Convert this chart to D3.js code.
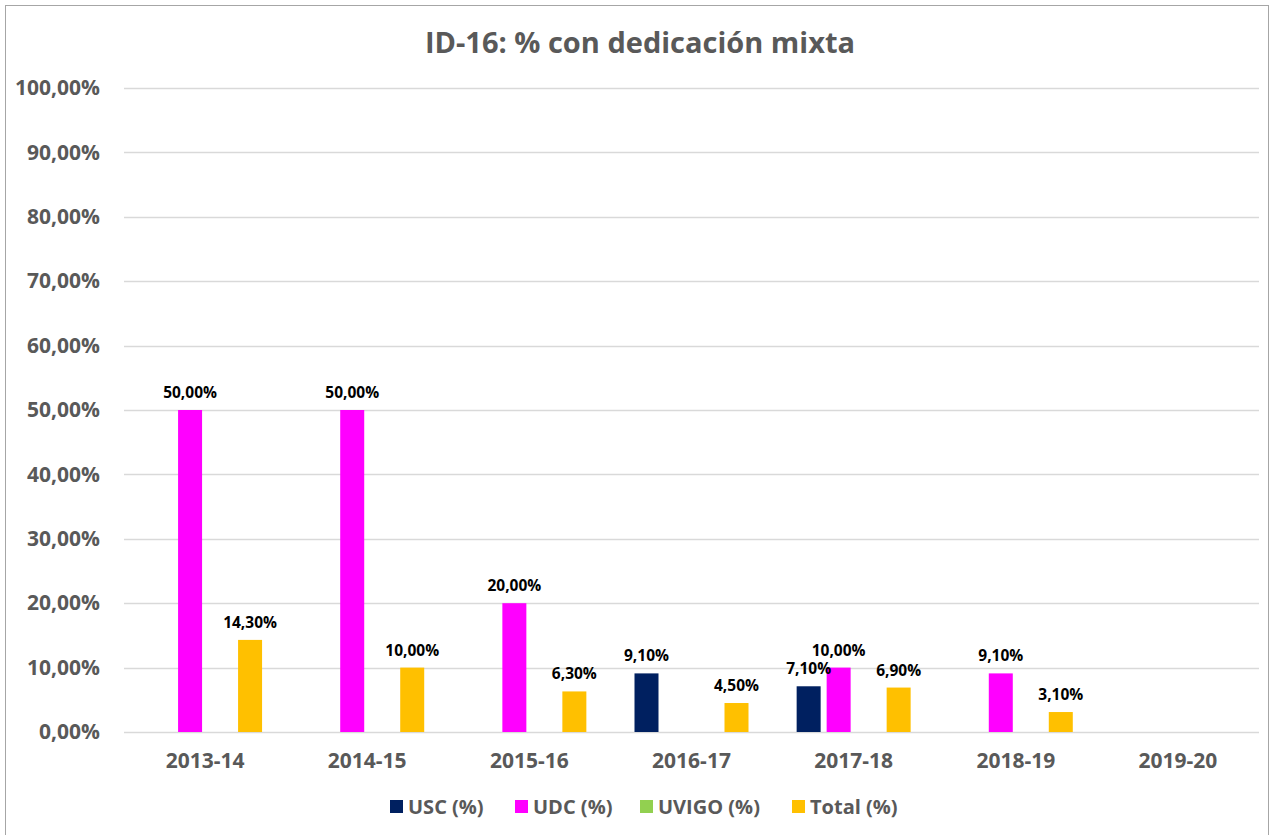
<!DOCTYPE html>
<html>
<head>
<meta charset="utf-8">
<script src="https://cdn.jsdelivr.net/npm/d3@7"></script>
<style>
  body { margin: 0; background: #fff; }
  svg { font-family: 'Open Sans', sans-serif; }
</style>
</head>
<body>
<svg id="chart"></svg>
<script>
const years = ['2013-14', '2014-15', '2015-16', '2016-17', '2017-18', '2018-19', '2019-20'];
const seriesNames = ['USC (%)', 'UDC (%)', 'UVIGO (%)', 'Total (%)'];
const usc = [null, null, null, 9.1, 7.1, null, null];
const udc = [50, 50, 20, null, 10, 9.1, null];
const uvigo = [null, null, null, null, null, null, null];
const total = [14.3, 10, 6.3, 4.5, 6.9, 3.1, null];
const yTicks = [0, 10, 20, 30, 40, 50, 60, 70, 80, 90, 100];
const colors = ['#002060', '#FF00FF', '#92D050', '#FFC000'];

const W = 1274, H = 835;
const margin = {top: 88, right: 15, bottom: 103, left: 124};

const svg = d3.select('#chart')
  .attr('width', W)
  .attr('height', H);

// outer border
svg.append('rect')
  .attr('x', 5.5).attr('y', 5.5)
  .attr('width', W - 11).attr('height', H)
  .attr('fill', 'none')
  .attr('stroke', '#a6a6a6')
  .attr('stroke-width', 1);

svg.append('text')
  .attr('x', 640).attr('y', 53)
  .attr('text-anchor', 'middle')
  .style('font-size', '29px')
  .style('font-weight', 'bold')
  .attr('fill', '#595959')
  .text('ID-16: % con dedicación mixta');

const x0 = d3.scaleBand()
  .domain(years)
  .range([margin.left, W - margin.right]);

const x1 = d3.scaleBand()
  .domain(seriesNames)
  .range([0, 114])
  .paddingInner(0.2);

const y = d3.scaleLinear()
  .domain([0, 100])
  .range([H - margin.bottom, margin.top]);

// gridlines
svg.append('g')
  .selectAll('line')
  .data(yTicks)
  .enter()
  .append('line')
  .attr('x1', margin.left).attr('x2', W - margin.right)
  .attr('y1', d => Math.round(y(d)) + 0.5)
  .attr('y2', d => Math.round(y(d)) + 0.5)
  .attr('stroke', '#d9d9d9')
  .attr('stroke-width', 1.5);

// y axis labels
const yAxis = svg.append('g')
  .attr('transform', `translate(${margin.left - 21}, 0)`)
  .call(d3.axisLeft(y).tickValues(yTicks).tickSize(0)
    .tickFormat(d => d3.format('.2f')(d).replace('.', ',') + '%'));
yAxis.select('.domain').remove();
yAxis.selectAll('text')
  .attr('fill', '#595959')
  .style('font-size', '21px')
  .style('font-weight', 'bold')
  .style('font-family', "'Open Sans', sans-serif");

// x axis labels
const xAxis = svg.append('g')
  .attr('transform', `translate(0, ${H - margin.bottom + 18})`)
  .call(d3.axisBottom(x0).tickSize(0));
xAxis.select('.domain').remove();
xAxis.selectAll('text')
  .attr('fill', '#595959')
  .style('font-size', '21px')
  .style('font-weight', 'bold')
  .style('font-family', "'Open Sans', sans-serif");

const allSeries = [usc, udc, uvigo, total];
const barData = [];
years.forEach((yr, i) => {
  allSeries.forEach((s, j) => {
    if (s[i] !== null) barData.push({year: yr, key: seriesNames[j], value: s[i], color: colors[j]});
  });
});

const off = (x0.bandwidth() - 114) / 2;

svg.append('g')
  .selectAll('rect')
  .data(barData)
  .enter()
  .append('rect')
  .attr('x', d => x0(d.year) + off + x1(d.key))
  .attr('y', d => y(d.value))
  .attr('width', x1.bandwidth())
  .attr('height', d => y(0) - y(d.value))
  .attr('fill', d => d.color);

svg.append('g')
  .selectAll('text')
  .data(barData)
  .enter()
  .append('text')
  .attr('x', d => x0(d.year) + off + x1(d.key) + x1.bandwidth() / 2)
  .attr('y', d => y(d.value) - 12)
  .attr('text-anchor', 'middle')
  .style('font-size', '15.5px')
  .style('font-weight', 'bold')
  .attr('fill', '#000')
  .text(d => d3.format('.2f')(d.value).replace('.', ',') + '%');

// legend
const legendX = [390, 515, 640, 792];
const legend = svg.append('g');
seriesNames.forEach((name, i) => {
  legend.append('rect')
    .attr('x', legendX[i]).attr('y', 800)
    .attr('width', 13).attr('height', 13)
    .attr('fill', colors[i]);
  legend.append('text')
    .attr('x', legendX[i] + 18).attr('y', 814)
    .style('font-size', '20px')
    .style('font-weight', 'bold')
    .attr('fill', '#595959')
    .text(name);
});
</script>
</body>
</html>
